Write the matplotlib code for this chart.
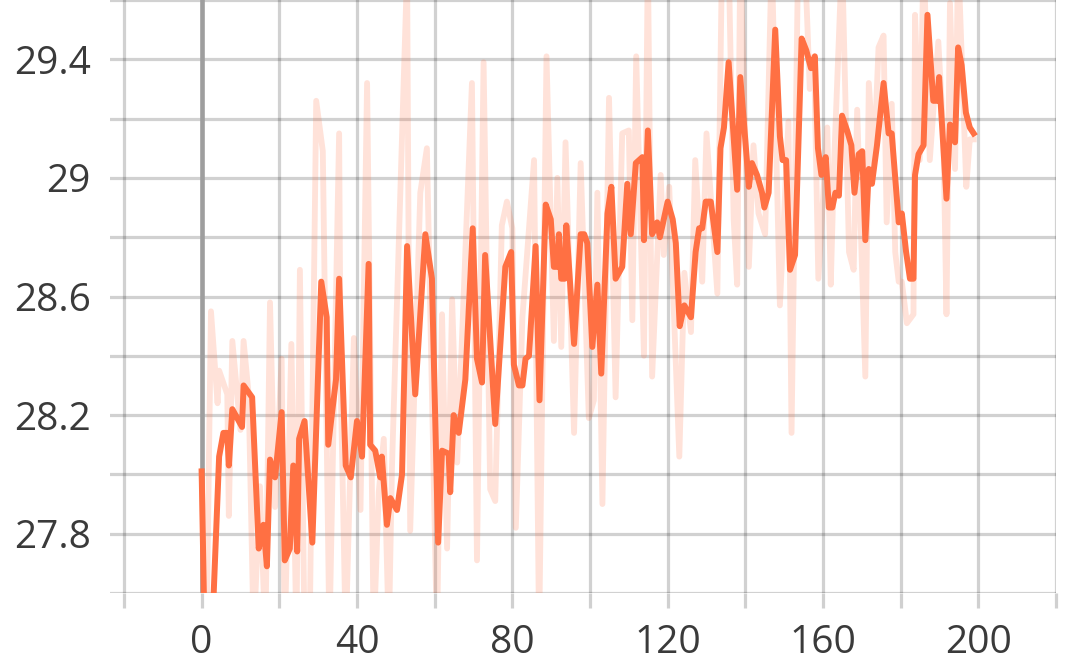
import matplotlib
matplotlib.use("Agg")
import matplotlib.pyplot as plt

# smoothed curve
smooth_steps = [0, 0.7, 2.8, 4.5, 5.6, 6.6, 7.0, 7.9, 10.4, 10.8, 13.0, 14.7, 15.9, 16.8,
                17.6, 18.9, 20.6, 21.4, 22.7, 23.6, 24.6, 25.1, 26.5, 28.5, 30.8, 32.2,
                32.6, 34.6, 35.4, 37.1, 38.4, 40.0, 41.3, 43.0, 43.4, 44.7, 46.0, 46.4,
                47.7, 48.6, 50.3, 51.6, 52.9, 55.0, 57.6, 59.3, 60.9, 61.9, 63.6, 64.0,
                64.9, 66.2, 67.9, 69.8, 70.9, 72.2, 73.0, 75.6, 78.2, 79.7, 80.4, 81.7,
                82.6, 83.4, 84.3, 86.0, 87.0, 88.6, 89.9, 90.7, 91.6, 92.0, 92.6, 93.5,
                93.9, 95.9, 97.6, 98.5, 99.3, 100.6, 101.9, 102.9, 104.5, 105.5, 106.6,
                108.3, 109.6, 110.5, 111.8, 113.5, 113.9, 114.9, 116.0, 117.3, 118.0,
                120.0, 121.3, 122.1, 123.1, 124.3, 126.0, 127.2, 128.1, 128.9, 129.8,
                131.1, 132.8, 133.6, 134.5, 135.7, 137.9, 138.7, 140.4, 140.9, 141.7,
                143.0, 144.3, 144.9, 146.0, 146.8, 147.7, 148.9, 149.6, 150.5, 151.5,
                152.8, 154.5, 155.7, 156.9, 157.9, 158.7, 159.6, 160.7, 161.5, 162.4,
                163.2, 164.1, 164.9, 166.2, 167.3, 168.1, 169.2, 170.1, 170.9, 171.8,
                172.6, 173.9, 175.6, 176.9, 177.7, 179.5, 180.3, 181.4, 182.4, 183.3,
                183.7, 184.6, 185.9, 186.9, 188.4, 189.4, 189.9, 191.8, 192.7, 194.0,
                194.8, 195.7, 196.8, 197.8, 198.8]
smooth_vals = [28.01, 27.5, 27.5, 28.06, 28.14, 28.14, 28.03, 28.22, 28.16, 28.30, 28.26,
               27.75, 27.83, 27.69, 28.05, 27.99, 28.21, 27.71, 27.75, 28.03, 27.74, 28.12,
               28.18, 27.77, 28.65, 28.53, 28.10, 28.32, 28.66, 28.03, 27.99, 28.18, 28.06,
               28.71, 28.10, 28.08, 27.99, 28.06, 27.83, 27.92, 27.88, 28.00, 28.77, 28.27,
               28.81, 28.66, 27.77, 28.08, 28.07, 27.94, 28.20, 28.14, 28.32, 28.83, 28.39,
               28.31, 28.74, 28.17, 28.70, 28.75, 28.37, 28.30, 28.30, 28.39, 28.40, 28.77,
               28.25, 28.91, 28.86, 28.70, 28.70, 28.81, 28.66, 28.66, 28.84, 28.44, 28.81,
               28.81, 28.78, 28.43, 28.64, 28.34, 28.88, 28.97, 28.66, 28.70, 28.98, 28.81,
               29.05, 29.07, 28.79, 29.16, 28.81, 28.85, 28.80, 28.92, 28.86, 28.78, 28.50,
               28.57, 28.53, 28.75, 28.83, 28.83, 28.92, 28.92, 28.75, 29.10, 29.17, 29.39,
               28.96, 29.34, 29.06, 28.97, 29.05, 29.01, 28.95, 28.90, 28.95, 29.21, 29.50,
               29.14, 29.06, 29.06, 28.69, 28.74, 29.47, 29.43, 29.37, 29.41, 29.10, 29.01,
               29.07, 28.90, 28.90, 28.95, 28.94, 29.21, 29.16, 29.11, 28.95, 29.08, 29.09,
               28.79, 29.03, 28.98, 29.11, 29.32, 29.15, 29.15, 28.85, 28.88, 28.75, 28.66,
               28.66, 29.01, 29.08, 29.11, 29.55, 29.26, 29.26, 29.34, 28.93, 29.18, 29.12,
               29.44, 29.38, 29.22, 29.17, 29.15]

# raw (unsmoothed) values
raw_steps = [0, 1.2, 2.4, 4.1, 4.5, 6.6, 7.0, 7.9, 10.0, 10.8, 12.1, 13.4, 15.0, 16.4,
             17.6, 18.9, 20.6, 21.4, 23.1, 24.4, 25.3, 26.5, 27.8, 29.5, 31.2, 32.9,
             35.4, 35.8, 37.1, 39.2, 40.9, 42.6, 44.3, 45.6, 46.9, 48.2, 49.0, 52.9,
             53.7, 56.3, 58.0, 60.6, 61.9, 63.2, 64.5, 65.8, 69.6, 70.9, 72.6, 74.3,
             75.6, 77.3, 78.6, 80.0, 80.9, 82.6, 85.6, 86.9, 88.8, 90.7, 91.6, 92.6,
             93.7, 95.9, 97.6, 99.7, 101.0, 101.9, 103.2, 104.9, 106.6, 108.3, 110.0,
             110.9, 111.9, 113.9, 114.9, 116.0, 118.2, 119.0, 120.4, 123.0, 124.3,
             126.0, 127.1, 128.9, 130.0, 132.8, 134.0, 135.7, 137.0, 137.9, 138.7,
             140.9, 142.1, 143.4, 145.1, 146.8, 148.9, 151.1, 151.9, 153.6, 155.3,
             156.6, 157.7, 158.8, 161.1, 162.0, 162.8, 164.9, 166.7, 167.9, 168.8,
             170.9, 171.8, 173.1, 174.3, 175.6, 176.4, 177.7, 178.6, 179.5, 180.3,
             181.6, 183.3, 183.7, 184.9, 185.9, 187.5, 189.7, 191.0, 191.8, 192.7,
             194.0, 194.8, 196.9, 197.8, 198.8]
raw_vals = [28.01, 27.40, 28.55, 28.24, 28.35, 28.27, 27.86, 28.45, 28.15, 28.45, 28.27,
            27.45, 27.96, 27.45, 28.58, 27.89, 28.39, 27.45, 28.44, 27.45, 28.69, 27.45,
            27.45, 29.26, 29.09, 27.45, 29.15, 28.31, 27.45, 28.46, 27.88, 29.32, 27.45,
            27.94, 28.12, 27.45, 28.02, 29.70, 27.81, 28.95, 29.10, 27.45, 28.54, 27.75,
            28.59, 28.04, 29.32, 27.71, 29.39, 27.95, 27.91, 28.84, 28.92, 28.83, 27.82,
            28.53, 29.06, 27.45, 29.41, 28.45, 29.00, 28.43, 29.12, 28.14, 29.05, 28.19,
            28.25, 28.95, 27.90, 29.27, 28.26, 29.15, 29.16, 28.52, 29.41, 28.40, 29.75,
            28.33, 29.01, 28.74, 28.97, 28.06, 28.68, 28.48, 29.06, 28.65, 29.15, 28.61,
            29.75, 29.75, 28.86, 28.64, 29.75, 28.70, 29.11, 28.88, 28.81, 29.75, 28.57,
            29.19, 28.14, 29.75, 29.75, 29.30, 29.41, 28.66, 29.17, 28.64, 29.03, 29.75,
            28.75, 28.69, 29.23, 28.33, 29.32, 29.05, 29.44, 29.48, 28.85, 29.25, 28.75,
            28.65, 28.65, 28.51, 28.54, 29.55, 29.06, 29.75, 29.06, 29.46, 29.14, 28.54,
            29.59, 29.03, 29.75, 28.97, 29.13, 29.13]

x_labels = [0, 40, 80, 120, 160, 200]
y_labels = [27.8, 28.2, 28.6, 29.0, 29.4]

plt.rcParams['font.family'] = ['Open Sans', 'DejaVu Sans']

fig = plt.figure(figsize=(10.8, 6.7), dpi=100)
ax = fig.add_axes([110 / 1080, 1 - 593 / 670, 946 / 1080, 593 / 670])

orange = "#ff7043"
ax.plot(raw_steps, raw_vals, color=orange, alpha=0.2, linewidth=4.2, zorder=3)
ax.plot(smooth_steps, smooth_vals, color=orange, linewidth=4.3, zorder=4)
ax.axvline(0, color="#9e9e9e", linewidth=3.3, zorder=2)

ax.set_xlim(-23.6, 219.7)
ax.set_ylim(27.6, 29.6)

ax.set_xticks(x_labels)
ax.set_xticks(range(-20, 221, 20), minor=True)
ax.set_yticks(y_labels)
ax.set_yticklabels([f"{v:g}" for v in y_labels])
ax.set_yticks([27.6 + 0.2 * i for i in range(11)], minor=True)

ax.grid(which="both", color="black", alpha=0.18, linewidth=2.3, zorder=1)
ax.set_axisbelow(True)
for s in ax.spines.values():
    s.set_visible(False)

ax.tick_params(axis="x", which="both", length=11, width=2.3, color="#d0d0d0",
               pad=11, labelsize=28, labelcolor="#3a3a3a")
ax.tick_params(axis="y", which="both", length=0, pad=14, labelsize=28,
               labelcolor="#3a3a3a")

fig.savefig("out.png", dpi=100)
